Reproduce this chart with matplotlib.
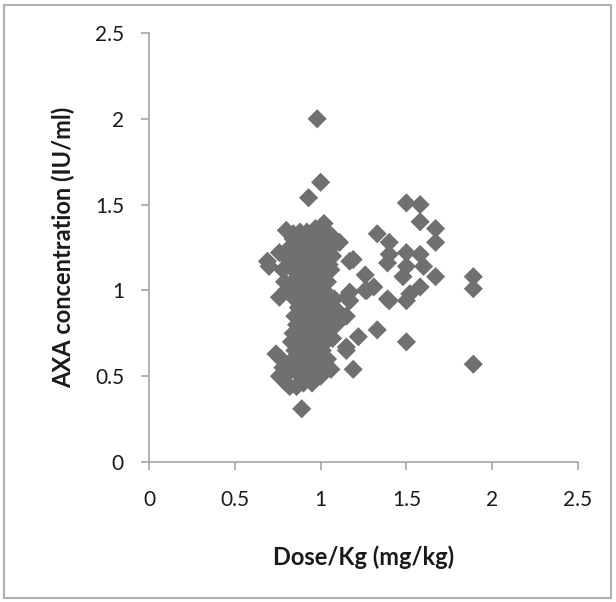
import matplotlib
matplotlib.use("Agg")
import matplotlib.pyplot as plt
from matplotlib.patches import Rectangle

# Dense cluster around 1 mg/kg
cluster_x = [0.84, 0.90, 0.95, 1.00, 1.04,
             0.82, 0.87, 0.92, 0.97, 1.02, 1.06,
             0.85, 0.90, 0.94, 0.99, 1.03,
             0.83, 0.88, 0.93, 0.97, 1.01, 1.05,
             0.86, 0.90, 0.95, 0.99, 1.03,
             0.84, 0.88, 0.92, 0.96, 1.00, 1.04,
             0.86, 0.90, 0.94, 0.98, 1.02,
             0.85, 0.89, 0.93, 0.97, 1.01, 1.05,
             0.87, 0.91, 0.95, 0.99, 1.03,
             0.85, 0.89, 0.93, 0.97, 1.01, 1.05,
             0.86, 0.90, 0.94, 0.98, 1.02,
             0.84, 0.88, 0.92, 0.96, 1.00, 1.04,
             0.83, 0.87, 0.91, 0.95, 0.99, 1.03,
             0.85, 0.89, 0.93, 0.97, 1.01,
             0.84, 0.88, 0.92, 0.96, 1.00, 1.04,
             0.86, 0.90, 0.94, 0.98, 1.02,
             0.88, 0.92, 0.96, 1.00,
             0.90, 0.95,
             0.79, 0.78, 0.79, 0.80, 0.77, 0.78, 0.81,
             1.08, 1.10, 1.09, 1.07, 1.06, 1.07,
             0.84, 0.92, 1.05]
cluster_y = [1.30, 1.30, 1.30, 1.30, 1.30,
             1.25, 1.25, 1.25, 1.25, 1.25, 1.25,
             1.20, 1.20, 1.20, 1.20, 1.20,
             1.15, 1.15, 1.15, 1.15, 1.15, 1.15,
             1.10, 1.10, 1.10, 1.10, 1.10,
             1.05, 1.05, 1.05, 1.05, 1.05, 1.05,
             1.00, 1.00, 1.00, 1.00, 1.00,
             0.95, 0.95, 0.95, 0.95, 0.95, 0.95,
             0.90, 0.90, 0.90, 0.90, 0.90,
             0.85, 0.85, 0.85, 0.85, 0.85, 0.85,
             0.80, 0.80, 0.80, 0.80, 0.80,
             0.75, 0.75, 0.75, 0.75, 0.75, 0.75,
             0.70, 0.70, 0.70, 0.70, 0.70, 0.70,
             0.65, 0.65, 0.65, 0.65, 0.65,
             0.60, 0.60, 0.60, 0.60, 0.60, 0.60,
             0.55, 0.55, 0.55, 0.55, 0.55,
             0.50, 0.50, 0.50, 0.50,
             0.46, 0.46,
             1.20, 1.12, 1.05, 1.00, 0.60, 0.55, 0.52,
             0.95, 0.88, 0.80, 0.72, 1.12, 1.20,
             1.33, 1.34, 1.33]

# Scattered points
other_x = [0.98, 1.00, 0.93, 0.80, 0.88, 0.97, 1.02, 1.07, 0.69, 0.76, 0.70,
           0.76, 0.74, 0.76, 0.82, 0.80, 0.89, 0.86,
           1.17, 1.11, 1.19, 1.17, 1.26, 1.31, 1.15, 1.15, 1.15, 1.17, 1.22,
           1.33, 1.40, 1.39, 1.40, 1.39, 1.19, 1.15, 1.06,
           1.50, 1.58, 1.58, 1.67, 1.67, 1.50, 1.58, 1.50, 1.60, 1.48, 1.67,
           1.58, 1.52, 1.50, 1.40, 1.26, 1.27,
           1.89, 1.89, 1.89, 1.50, 1.33]
other_y = [2.00, 1.63, 1.54, 1.35, 1.34, 1.36, 1.39, 1.31, 1.17, 1.22, 1.14,
           0.96, 0.63, 0.50, 0.44, 0.46, 0.31, 0.44,
           1.17, 1.28, 1.18, 0.99, 1.00, 1.02, 0.96, 0.85, 0.67, 0.94, 0.73,
           1.33, 1.28, 1.16, 1.21, 0.95, 0.54, 0.65, 0.54,
           1.51, 1.50, 1.40, 1.36, 1.28, 1.22, 1.21, 1.14, 1.14, 1.08, 1.08,
           1.02, 0.98, 0.94, 0.94, 1.09, 1.00,
           1.08, 1.01, 0.57, 0.70, 0.77]

dose = cluster_x + other_x
axa = cluster_y + other_y

x_ticks = [0, 0.5, 1, 1.5, 2, 2.5]
y_ticks = [0, 0.5, 1, 1.5, 2, 2.5]
x_tick_labels = ["0", "0.5", "1", "1.5", "2", "2.5"]
y_tick_labels = ["0", "0.5", "1", "1.5", "2", "2.5"]

plt.rcParams['font.family'] = ['Lato', 'DejaVu Sans']

fig = plt.figure(figsize=(6.16, 6.02), dpi=100)
ax = fig.add_axes([149/616, 1-462/602, (578-149)/616, (462-33)/602])

ax.scatter(dose, axa, marker='D', s=95, color='#707070', edgecolors='none',
           zorder=3, clip_on=False)

ax.set_xlim(0, 2.5)
ax.set_ylim(0, 2.5)
ax.set_xticks(x_ticks)
ax.set_xticklabels(x_tick_labels)
ax.set_yticks(y_ticks)
ax.set_yticklabels(y_tick_labels)

for s in ['top', 'right']:
    ax.spines[s].set_visible(False)
for s in ['left', 'bottom']:
    ax.spines[s].set_color('#a6a6a6')
    ax.spines[s].set_linewidth(1.2)
ax.tick_params(axis='both', which='major', direction='out', length=6,
               width=1.2, color='#a6a6a6', labelsize=15, labelcolor='#1a1a1a')
ax.tick_params(axis='x', pad=14)
ax.tick_params(axis='y', pad=12)

ax.set_xlabel('Dose/Kg (mg/kg)', fontsize=17, fontweight='bold', labelpad=26,
              color='#1a1a1a')
ax.set_ylabel('AXA concentration (IU/ml)', fontsize=17, fontweight='bold',
              labelpad=14, color='#1a1a1a')

fig.patches.append(Rectangle((4/616, 4/602), 607/616, 593/602,
                             transform=fig.transFigure, fill=False,
                             edgecolor='#b0b0b0', linewidth=1.5))

fig.savefig('out.png', dpi=100)
